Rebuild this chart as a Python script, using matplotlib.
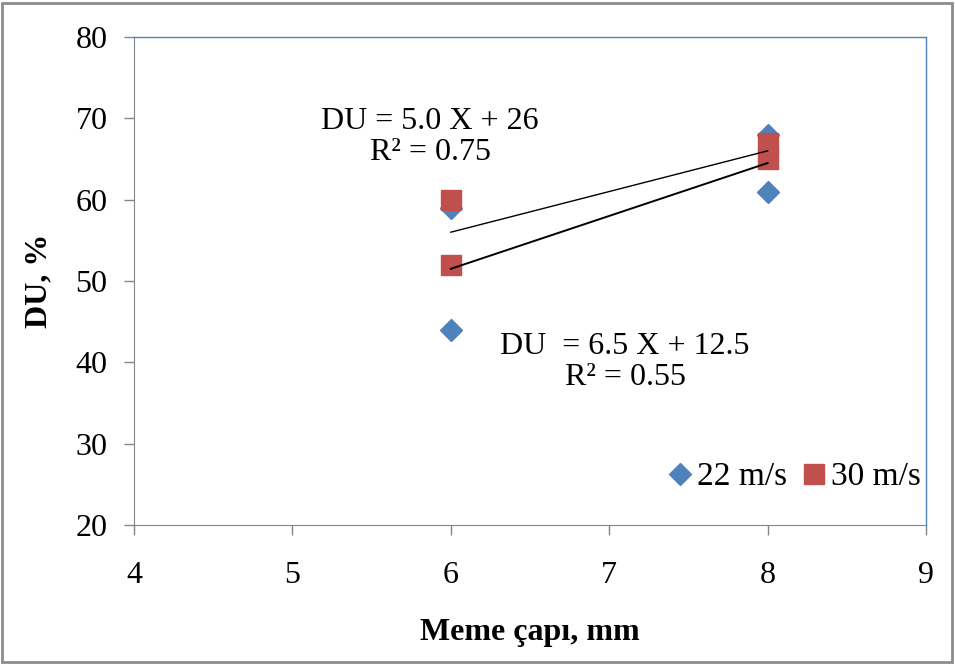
import matplotlib.pyplot as plt
import numpy as np

# nozzle diameter (mm) and distribution uniformity (%)
x_22 = [6, 6, 8, 8]
du_22 = [59, 44, 68, 61]
x_30 = [6, 6, 8, 8]
du_30 = [60, 52, 67, 65]

eq_22 = "DU  = 6.5 X + 12.5\nR² = 0.55"
eq_30 = "DU = 5.0 X + 26\nR² = 0.75"

BLUE = "#4F81BD"
RED = "#C0504D"
GRAY = "#868686"

plt.rcParams["font.family"] = ["Liberation Serif", "DejaVu Serif"]

fig = plt.figure(figsize=(9.55, 6.64), dpi=100)
ax = fig.add_axes([134 / 955, 1 - 525 / 664, (926 - 134) / 955, (525 - 37) / 664])

ax.plot(x_22, du_22, linestyle="none", marker="D", ms=11, color=BLUE, label="22 m/s", zorder=3)
ax.plot(x_30, du_30, linestyle="none", marker="s", ms=14, color=RED, label="30 m/s", zorder=4)

# linear trendlines
xs = np.array([6, 8])
for xd, yd, lw in [(x_30, du_30, 1.0), (x_22, du_22, 1.4)]:
    k, b = np.polyfit(xd, yd, 1)
    ax.plot(xs, k * xs + b, color="black", lw=lw, zorder=5)

ax.text(5.87, 67.7, eq_30, ha="center", va="center", fontsize=23, linespacing=1.1)
ax.text(7.10, 40.0, eq_22, ha="center", va="center", fontsize=23, linespacing=1.1)

ax.set_xlim(4, 9)
ax.set_ylim(20, 80)
ax.set_xticks(range(4, 10))
ax.set_yticks(range(20, 81, 10))
ax.tick_params(axis="both", labelsize=23, color=GRAY, length=7, width=1)
ax.tick_params(axis="y", pad=12)
ax.tick_params(axis="x", pad=19)

for side in ["left", "bottom"]:
    ax.spines[side].set_color(GRAY)
for side in ["top", "right"]:
    ax.spines[side].set_color(BLUE)
    ax.spines[side].set_linewidth(1.0)

ax.set_xlabel("Meme çapı, mm", fontsize=23, fontweight="bold", labelpad=20)
ax.set_ylabel("DU, %", fontsize=23, fontweight="bold", labelpad=16)

ax.legend(loc="center", bbox_to_anchor=(0.831, 0.098), ncol=2, frameon=False,
          fontsize=24, handletextpad=0.0, columnspacing=0.3, handlelength=1.0)

# outer chart border
fig.patches.append(plt.Rectangle((0.002, 0.003), 0.995, 0.993, transform=fig.transFigure,
                                 fill=False, edgecolor="#8C8C8C", lw=2))

fig.savefig("out.png", dpi=100)
